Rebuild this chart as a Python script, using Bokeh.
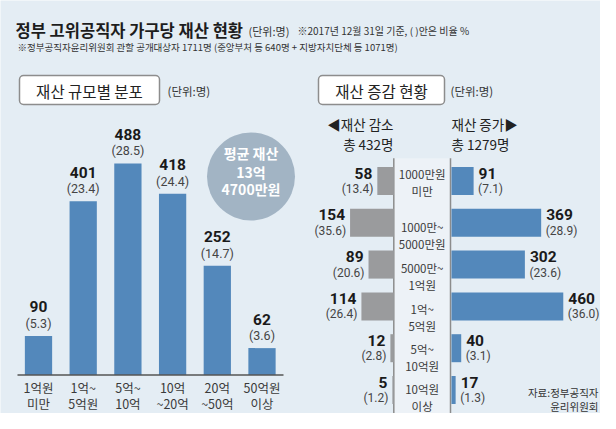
from bokeh.plotting import figure
from bokeh.models import Range1d, ColumnDataSource
from bokeh.core.properties import value
from bokeh.embed import file_html
from bokeh.resources import INLINE

# ---------------- data ----------------
dist_cats = ["1억원\n미만", "1억~\n5억원", "5억~\n10억", "10억\n~20억", "20억\n~50억", "50억원\n이상"]
dist_counts = [90, 401, 488, 418, 252, 62]
dist_pcts = [5.3, 23.4, 28.5, 24.4, 14.7, 3.6]

chg_cats = ["1000만원\n미만", "1000만~\n5000만원", "5000만~\n1억원", "1억~\n5억원", "5억~\n10억원", "10억원\n이상"]
dec_counts = [58, 154, 89, 114, 12, 5]
dec_pcts = [13.4, 35.6, 20.6, 26.4, 2.8, 1.2]
inc_counts = [91, 369, 302, 460, 40, 17]
inc_pcts = [7.1, 28.9, 23.6, 36.0, 3.1, 1.3]

avg_lines = ["평균 재산", "13억", "4700만원"]

# ---------------- style ----------------
BG = "#e4edf4"
BLUE = "#5388bb"
GREY = "#9a9b9d"
KR = "Noto Sans CJK KR"
NUM = "Roboto"
W, H = 600, 413

p = figure(width=W, height=H, output_backend="svg", toolbar_location=None,
           x_range=Range1d(0, W), y_range=Range1d(H, 0),
           x_axis_type=None, y_axis_type=None, min_border=0,
           background_fill_color=BG, border_fill_color=BG, outline_line_color=None)
p.grid.visible = False


def xr(px0, s):
    return Range1d((0 - px0) / s, (W - px0) / s)


def yr(px0, s):
    return Range1d((H - px0) / s, (0 - px0) / s)


p.extra_x_ranges = {"cat": xr(38.0, 44.7), "dec": xr(393.3, -0.284), "inc": xr(451.0, 0.243)}
p.extra_y_ranges = {"cnt": yr(374.5, -0.4335), "row": yr(180.5, 41.8)}

# ---------------- headings ----------------
p.text(x=[15], y=[29], text=["정부 고위공직자 가구당 재산 현황"], text_font=value(KR),
       text_font_style="bold", text_font_size="16.5px", text_color="#1d1d1d",
       text_baseline="middle")
p.text(x=[248], y=[30], text=["(단위:명)"], text_font=value(KR), text_font_size="11px",
       text_color="#333333", text_baseline="middle")
p.text(x=[297], y=[30], text=["※2017년 12월 31일 기준, (   )안은 비율 %"], text_font=value(KR),
       text_font_size="10px", text_color="#333333", text_baseline="middle")
total_all = sum(dist_counts)
p.text(x=[17], y=[46], text=[f"※정부공직자윤리위원회 관할 공개대상자 {total_all}명 (중앙부처 등 640명 + 지방자치단체 등 1071명)"],
       text_font=value(KR), text_font_size="9.5px", text_color="#333333", text_baseline="middle")

# section boxes
p.quad(left=[19, 318], right=[159, 444], top=[75, 75], bottom=[104, 104],
       fill_color="white", line_color="#8d8d8d", line_width=1.5, border_radius=4)
p.text(x=[89, 381], y=[90, 90], text=["재산 규모별 분포", "재산 증감 현황"], text_font=value(KR),
       text_font_size="15.5px", text_color="#222222", text_align="center", text_baseline="middle")
p.text(x=[167, 450], y=[90, 90], text=["(단위:명)", "(단위:명)"], text_font=value(KR),
       text_font_size="11.5px", text_color="#333333", text_baseline="middle")

# ---------------- left chart: distribution ----------------
src = ColumnDataSource(dict(
    i=list(range(len(dist_counts))), count=dist_counts,
    num=[str(v) for v in dist_counts], pct=[f"({v:.1f})" for v in dist_pcts],
    l1=[c.split("\n")[0] for c in dist_cats], l2=[c.split("\n")[1] for c in dist_cats]))

p.vbar(x="i", top="count", bottom=0, width=0.61, source=src, fill_color=BLUE,
       line_color=None, x_range_name="cat", y_range_name="cnt")
p.segment(x0=[17], x1=[283], y0=[374.5], y1=[374.5], line_color="#555555", line_width=1.5)
p.text(x="i", y="count", text="num", source=src, x_range_name="cat", y_range_name="cnt",
       y_offset=-29, text_align="center", text_baseline="middle", text_font=value(NUM),
       text_font_style="bold", text_font_size="15.5px", text_color="#1a1a1a")
p.text(x="i", y="count", text="pct", source=src, x_range_name="cat", y_range_name="cnt",
       y_offset=-12.5, text_align="center", text_baseline="middle", text_font=value(NUM),
       text_font_size="12.5px", text_color="#444444")
p.text(x="i", y=0, text="l1", source=src, x_range_name="cat", y_range_name="cnt",
       y_offset=12, text_align="center", text_baseline="middle", text_font=value(KR),
       text_font_size="12.5px", text_color="#3a3a3a")
p.text(x="i", y=0, text="l2", source=src, x_range_name="cat", y_range_name="cnt",
       y_offset=28.5, text_align="center", text_baseline="middle", text_font=value(KR),
       text_font_size="12.5px", text_color="#3a3a3a")

# average circle
p.circle(x=[250.5], y=[176], radius=44, fill_color="#a2b4c4", line_color=None)
p.text(x=[250.5] * 3, y=[152, 171.5, 188], text=avg_lines, text_font=value(KR),
       text_font_style="bold", text_font_size="14px", text_color="white",
       text_align="center", text_baseline="middle")

# ---------------- right chart: change ----------------
p.quad(left=[393.3], right=[450], top=[157.7], bottom=[413], fill_color="#edf2f7", line_color=None)
p.segment(x0=[393.3, 450], x1=[393.3, 450], y0=[157.7, 157.7], y1=[413, 413],
          line_color="#8c8c8c", line_width=1.5)

dec_total, inc_total = sum(dec_counts), sum(inc_counts)
p.text(x=[393, 393], y=[123, 143], text=["◀재산 감소", f"총 {dec_total}명"], text_font=value(KR),
       text_font_size="13.5px", text_color="#222222", text_align="right", text_baseline="middle")
p.text(x=[451, 451], y=[123, 143], text=["재산 증가▶", f"총 {inc_total}명"], text_font=value(KR),
       text_font_size="13.5px", text_color="#222222", text_align="left", text_baseline="middle")

rsrc = ColumnDataSource(dict(
    r=list(range(len(chg_cats))), dec=dec_counts, inc=inc_counts,
    dnum=[str(v) for v in dec_counts], dpct=[f"({v:.1f})" for v in dec_pcts],
    inum=[str(v) for v in inc_counts], ipct=[f"({v:.1f})" for v in inc_pcts]))

p.hbar(y="r", left=0, right="dec", height=0.67, source=rsrc, fill_color=GREY,
       line_color=None, x_range_name="dec", y_range_name="row")
p.hbar(y="r", left=0, right="inc", height=0.67, source=rsrc, fill_color=BLUE,
       line_color=None, x_range_name="inc", y_range_name="row")

p.text(x="dec", y="r", text="dnum", source=rsrc, x_range_name="dec", y_range_name="row",
       x_offset=-5, y_offset=-8, text_align="right", text_baseline="middle",
       text_font=value(NUM), text_font_style="bold", text_font_size="15.5px", text_color="#1a1a1a")
p.text(x="dec", y="r", text="dpct", source=rsrc, x_range_name="dec", y_range_name="row",
       x_offset=-4, y_offset=8, text_align="right", text_baseline="middle",
       text_font=value(NUM), text_font_size="12px", text_color="#444444")
p.text(x="inc", y="r", text="inum", source=rsrc, x_range_name="inc", y_range_name="row",
       x_offset=5, y_offset=-8, text_align="left", text_baseline="middle",
       text_font=value(NUM), text_font_style="bold", text_font_size="15.5px", text_color="#1a1a1a")
p.text(x="inc", y="r", text="ipct", source=rsrc, x_range_name="inc", y_range_name="row",
       x_offset=4.5, y_offset=8, text_align="left", text_baseline="middle",
       text_font=value(NUM), text_font_size="12px", text_color="#444444")

# centre column labels
label_dy = [1, 13, 12, 11, 9, 7]
csrc = ColumnDataSource(dict(
    r=[i + d / 41.8 for i, d in enumerate(label_dy)], x=[421.7] * len(chg_cats),
    l1=[c.split("\n")[0] for c in chg_cats], l2=[c.split("\n")[1] for c in chg_cats]))
p.text(x="x", y="r", text="l1", source=csrc, y_range_name="row", y_offset=-8.5,
       text_align="center", text_baseline="middle", text_font=value(KR),
       text_font_size="11.5px", text_color="#3a3a3a")
p.text(x="x", y="r", text="l2", source=csrc, y_range_name="row", y_offset=8.5,
       text_align="center", text_baseline="middle", text_font=value(KR),
       text_font_size="11.5px", text_color="#3a3a3a")

# source
p.text(x=[598, 598], y=[392, 406], text=["자료:정부공직자", "윤리위원회"], text_font=value(KR),
       text_font_size="10.5px", text_color="#333333", text_align="right", text_baseline="middle")

open("out.html", "w").write(file_html(p, INLINE))
